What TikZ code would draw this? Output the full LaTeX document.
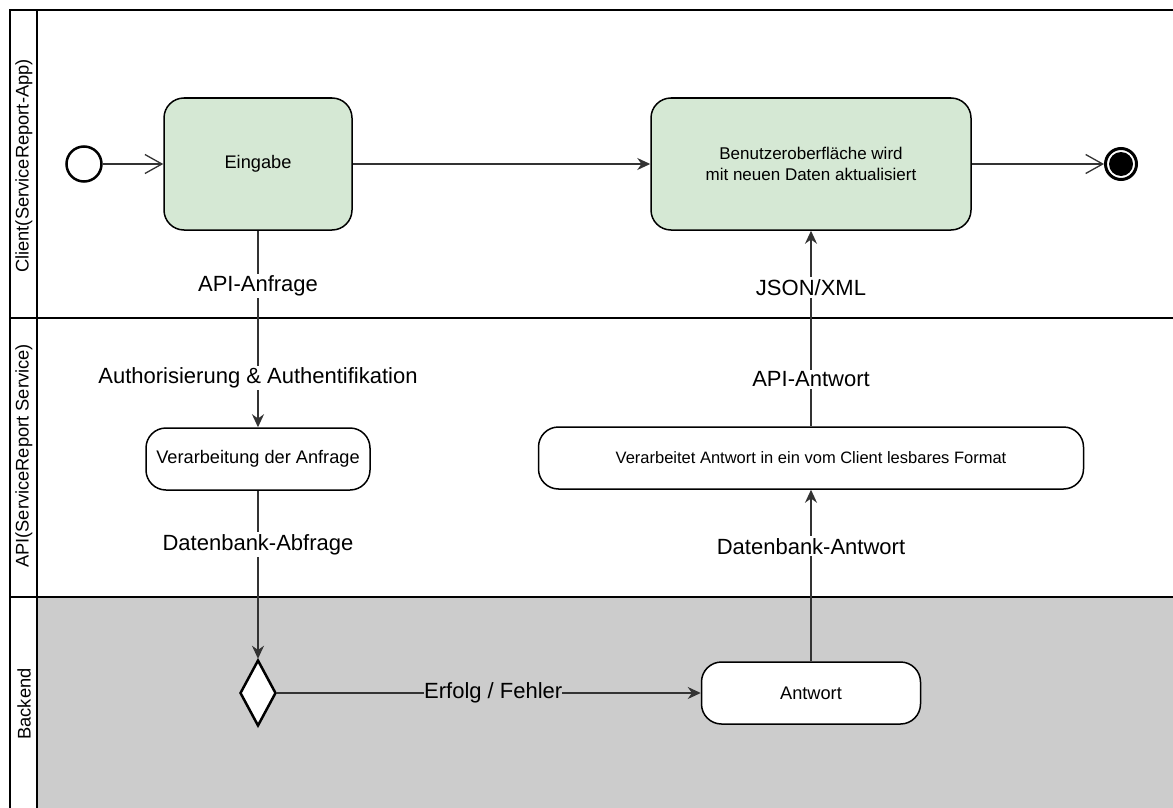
\documentclass[tikz,border=0pt]{standalone}
\usepackage{fontspec}
\setmainfont{Liberation Sans}
\usetikzlibrary{arrows.meta,shapes.geometric}

\definecolor{actgreen}{HTML}{D5E8D4}
\definecolor{backgray}{HTML}{CCCCCC}
\definecolor{linegray}{HTML}{333333}

\tikzset{
  lane/.style={line width=2.5pt, black},
  lanelabel/.style={rotate=90, font=\fontsize{18.3}{22}\selectfont},
  activity/.style={draw, line width=1.5pt, rounded corners=20pt, fill=white,
    minimum height=62pt, align=center, font=\fontsize{18.2}{21}\selectfont},
  greenact/.style={activity, fill=actgreen, minimum height=132pt},
  flow/.style={draw=linegray, line width=1.3pt, -{Stealth[length=13pt,width=12pt]}},
  openflow/.style={draw=linegray, line width=1.3pt, -{Straight Barb[length=17pt,width=19pt]}},
  elabel/.style={fill=white, inner sep=2pt, font=\fontsize{22}{26}\selectfont},
}

\begin{document}
\begin{tikzpicture}[x=10pt,y=-10pt]
  \useasboundingbox (0,0) rectangle (117.3,80.8);
  \clip (0,0) rectangle (117.3,80.8);

  %LANES
  \fill[backgray] (3.7,59.7) rectangle (120,85);
  \draw[lane] (1,85) -- (1,1) -- (120,1);
  \draw[lane] (3.7,1) -- (3.7,85);
  \draw[lane] (1,31.8) -- (120,31.8);
  \draw[lane] (1,59.7) -- (120,59.7);
  \node[lanelabel] (client) at (2.4,16.6) {Client(ServiceReport-App)};
  \node[lanelabel] (api) at (2.4,45.6) {API(ServiceReport Service)};
  \node[lanelabel] (backend) at (2.4,70.4) {Backend};

  %CLIENT
  \node[draw, circle, line width=2.5pt, minimum size=35pt, inner sep=0pt] (start) at (8.4,16.4) {};
  \node[greenact, minimum width=188pt] (eingabe) at (25.8,16.4) {Eingabe};
  \node[greenact, minimum width=320pt, font=\fontsize{17}{20.5}\selectfont] (ui) at (81.1,16.4)
    {Benutzeroberfläche wird\\mit neuen Daten aktualisiert};
  \node[draw, circle, line width=3pt, minimum size=31pt, inner sep=0pt] (ende) at (112.1,16.4) {};
  \fill (ende.center) circle (12pt);

  %API
  \node[activity, minimum width=224pt] (anfrage) at (25.8,45.9) {Verarbeitung der Anfrage};
  \node[activity, minimum width=545pt, font=\fontsize{16.5}{20}\selectfont] (format) at (81.1,45.8)
    {Verarbeitet Antwort in ein vom Client lesbares Format};

  %BACKEND
  \node[draw, diamond, fill=white, line width=2.5pt, minimum width=36pt, minimum height=66pt, inner sep=0pt] (check) at (25.8,69.3) {};
  \node[activity, minimum width=219pt] (antwort) at (81.1,69.3) {Antwort};

  %FLOWS
  \draw[openflow] (start) -- (eingabe);
  \draw[flow] (eingabe) -- (ui);
  \draw[openflow] (ui) -- (ende);
  \draw[flow] (eingabe) -- node[elabel, pos=0.28] {API-Anfrage}
    node[elabel, pos=0.75] {Authorisierung \& Authentifikation} (anfrage);
  \draw[flow] (anfrage) -- node[elabel, pos=0.32] {Datenbank-Abfrage} (check);
  \draw[flow] (check) -- node[elabel, fill=backgray, inner sep=0pt, pos=0.51] {Erfolg / Fehler} (antwort);
  \draw[flow] (antwort) -- node[elabel, pos=0.67] {Datenbank-Antwort} (format);
  \draw[flow] (format) -- node[elabel, pos=0.24] {API-Antwort}
    node[elabel, pos=0.71] {JSON/XML} (ui);
\end{tikzpicture}
\end{document}
